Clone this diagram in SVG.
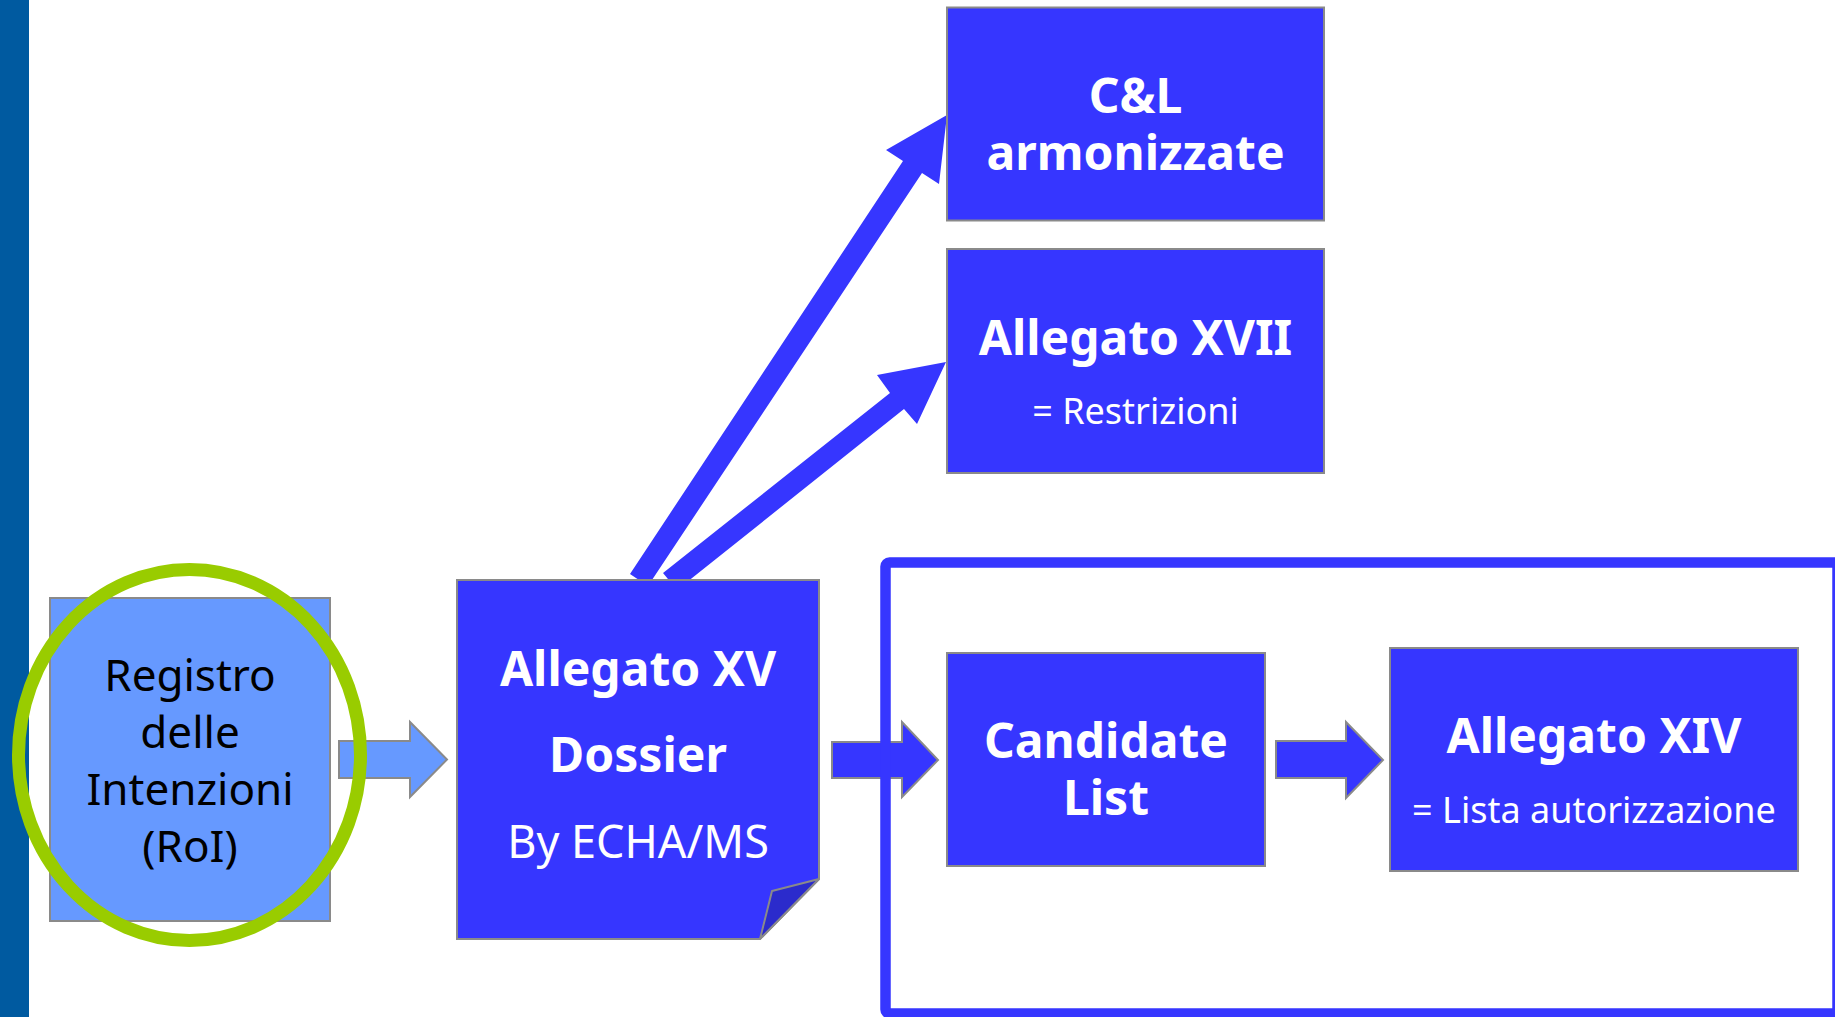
<svg xmlns="http://www.w3.org/2000/svg" width="1835" height="1017" viewBox="0 0 1835 1017">
<style>
.box{fill:#3636FF;stroke:#8A8A8A;stroke-width:2}
.lbox{fill:#6699FF;stroke:#8A8A8A;stroke-width:2}
.blk{fill:#3636FF;stroke:#8A8A8A;stroke-width:2}
.lblk{fill:#6699FF;stroke:#8A8A8A;stroke-width:2}
.diag{fill:#3636FF;stroke:none}
.b{font-family:"Noto Sans","DejaVu Sans",sans-serif;font-weight:bold;font-size:48px;fill:#FFFFFF;text-anchor:middle}
.r{font-family:"Noto Sans","DejaVu Sans",sans-serif;font-size:36px;fill:#FFFFFF;text-anchor:middle}
.k{font-family:"Noto Sans","DejaVu Sans",sans-serif;font-size:44px;fill:#000000;text-anchor:middle}
</style>
<rect x="0" y="0" width="1835" height="1017" fill="#FFFFFF"/>
<rect id="sidebar" x="0" y="0" width="29" height="1017" fill="#005AA0"/>
<g id="connectors">
<polygon class="diag" points="947,115 886,150 903,161 630,574 648,586 922,173 939,184"/>
<polygon class="diag" points="946,362 877,375 890,393 663,573 677,590 904,409 917,424"/>
<polygon class="lblk" points="339,741 410,741 410,722 447,759.5 410,797 410,778 339,778"/>
<polygon class="blk" points="832,742 902,742 902,722 938,760 902,797 902,778 832,778"/>
<polygon class="blk" points="1276,741 1346,741 1346,722 1383,760 1346,798 1346,778 1276,778"/>
</g>
<g id="frame">
<rect x="885.5" y="562.5" width="952" height="451" rx="4" fill="none" stroke="#3636FF" stroke-width="10.5"/>
</g>
<g id="node-registro">
<rect class="lbox" x="50" y="598" width="280" height="323"/>
<text class="k" x="190" y="691">Registro</text>
<text class="k" x="190" y="748">delle</text>
<text class="k" x="190" y="805">Intenzioni</text>
<text class="k" x="190" y="862">(RoI)</text>
</g>
<g id="highlight">
<ellipse cx="189.5" cy="755" rx="171" ry="185.5" fill="none" stroke="#99CC00" stroke-width="13"/>
</g>
<g id="node-dossier">
<polygon class="box" points="457,580 819,580 819,879 760,939 457,939"/>
<polygon points="819,879 772,891 760,939" fill="#2B2BCC" stroke="#8A8A8A" stroke-width="2" stroke-linejoin="round"/>
<text class="b" x="638" y="686">Allegato XV</text>
<text class="b" x="638" y="772">Dossier</text>
<text class="r" x="638" y="858" style="font-size:45px">By ECHA/MS</text>
</g>
<g id="node-cl">
<rect class="box" x="947" y="7.5" width="377" height="213"/>
<text class="b" x="1135.5" y="113">C&amp;L</text>
<text class="b" x="1135.5" y="170">armonizzate</text>
</g>
<g id="node-xvii">
<rect class="box" x="947" y="249" width="377" height="224"/>
<text class="b" x="1135.5" y="355">Allegato XVII</text>
<text class="r" x="1135.5" y="424">= Restrizioni</text>
</g>
<g id="node-candidate">
<rect class="box" x="947" y="653" width="318" height="213"/>
<text class="b" x="1106" y="758">Candidate</text>
<text class="b" x="1106" y="815">List</text>
</g>
<g id="node-xiv">
<rect class="box" x="1390" y="648" width="408" height="223"/>
<text class="b" x="1594" y="753">Allegato XIV</text>
<text class="r" x="1594" y="823">= Lista autorizzazione</text>
</g>
</svg>
